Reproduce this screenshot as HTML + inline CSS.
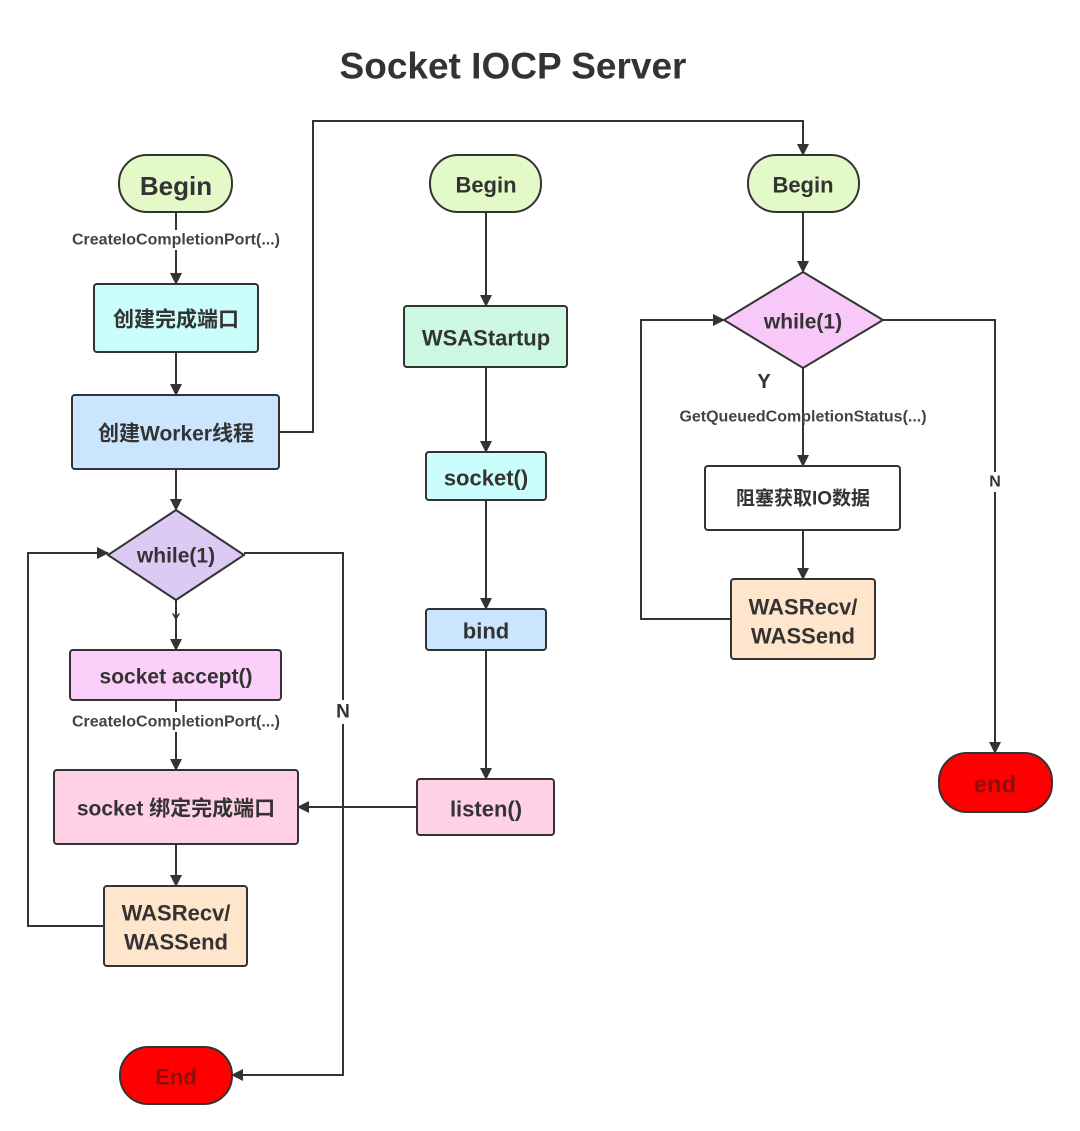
<!DOCTYPE html>
<html><head><meta charset="utf-8"><style>
html,body{margin:0;padding:0;background:#fff}
svg{display:block}
text{font-family:"Liberation Sans","Noto Sans CJK SC",sans-serif;font-weight:bold;fill:#333;text-anchor:middle;dominant-baseline:central}
.s{font-size:16px;font-weight:bold;fill:#444}
</style></head><body>
<svg width="1080" height="1131" viewBox="0 0 1080 1131" xmlns="http://www.w3.org/2000/svg">
<defs><marker id="a" markerWidth="12" markerHeight="12" refX="11" refY="6" orient="auto" markerUnits="userSpaceOnUse"><path d="M0,0 L12,6 L0,12 z" fill="#333"/></marker></defs>
<text x="513" y="66" style="font-size:37px">Socket IOCP Server</text>
<g stroke="#333" stroke-width="2" fill="none">
<line x1="176" y1="212" x2="176" y2="230"/>
<line x1="176" y1="250" x2="176" y2="284" marker-end="url(#a)"/>
<line x1="176" y1="352" x2="176" y2="395" marker-end="url(#a)"/>
<line x1="176" y1="469" x2="176" y2="510" marker-end="url(#a)"/>
<line x1="176" y1="600" x2="176" y2="650" marker-end="url(#a)"/>
<line x1="176" y1="700" x2="176" y2="712"/>
<line x1="176" y1="732" x2="176" y2="770" marker-end="url(#a)"/>
<line x1="176" y1="844" x2="176" y2="886" marker-end="url(#a)"/>
<polyline points="104,926 28,926 28,553 108,553" marker-end="url(#a)"/>
<polyline points="244,553 343,553 343,1075 232,1075" marker-end="url(#a)"/>
<polyline points="279,432 313,432 313,121 803,121 803,155" marker-end="url(#a)"/>
<line x1="486" y1="212" x2="486" y2="306" marker-end="url(#a)"/>
<line x1="486" y1="367" x2="486" y2="452" marker-end="url(#a)"/>
<line x1="486" y1="500" x2="486" y2="609" marker-end="url(#a)"/>
<line x1="486" y1="650" x2="486" y2="779" marker-end="url(#a)"/>
<line x1="417" y1="807" x2="298" y2="807" marker-end="url(#a)"/>
<line x1="803" y1="212" x2="803" y2="272" marker-end="url(#a)"/>
<line x1="803" y1="368" x2="803" y2="466" marker-end="url(#a)"/>
<line x1="803" y1="530" x2="803" y2="579" marker-end="url(#a)"/>
<polyline points="731,619 641,619 641,320 724,320" marker-end="url(#a)"/>
<polyline points="883,320 995,320 995,753" marker-end="url(#a)"/>
</g>
<rect x="334" y="700" width="18" height="24" fill="#fff"/>
<rect x="987" y="472" width="16" height="20" fill="#fff"/>
<g stroke="#333" stroke-width="2">
<rect x="119" y="155" width="113" height="57" rx="28" fill="#e4f9c8"/>
<rect x="94" y="284" width="164" height="68" rx="3" fill="#ccfdfd"/>
<rect x="72" y="395" width="207" height="74" rx="3" fill="#cce5ff"/>
<polygon points="176,510 244,555 176,600 108,555" fill="#dccaf5"/>
<rect x="70" y="650" width="211" height="50" rx="3" fill="#fccefa"/>
<rect x="54" y="770" width="244" height="74" rx="3" fill="#ffd0e6"/>
<rect x="104" y="886" width="143" height="80" rx="3" fill="#ffe5cc"/>
<rect x="120" y="1047" width="112" height="57" rx="28" fill="#ff0000"/>
<rect x="430" y="155" width="111" height="57" rx="28" fill="#e4f9c8"/>
<rect x="404" y="306" width="163" height="61" rx="3" fill="#ccf8e2"/>
<rect x="426" y="452" width="120" height="48" rx="3" fill="#ccfdfd"/>
<rect x="426" y="609" width="120" height="41" rx="3" fill="#cce5ff"/>
<rect x="417" y="779" width="137" height="56" rx="3" fill="#ffd0e6"/>
<rect x="748" y="155" width="111" height="57" rx="28" fill="#e4f9c8"/>
<polygon points="803,272 883,320 803,368 724,320" fill="#f7c8f8"/>
<rect x="705" y="466" width="195" height="64" rx="3" fill="#fff"/>
<rect x="731" y="579" width="144" height="80" rx="3" fill="#ffe5cc"/>
<rect x="939" y="753" width="113" height="59" rx="28" fill="#ff0000"/>
</g>
<text x="176" y="186" style="font-size:26px">Begin</text>
<text x="176" y="240" class="s">CreateIoCompletionPort(...)</text>
<text x="176" y="320" style="font-size:21px">创建完成端口</text>
<text x="176" y="434" style="font-size:21px">创建Worker线程</text>
<text x="176" y="556" style="font-size:21px">while(1)</text>
<text x="176" y="618" style="font-size:13px">Y</text>
<text x="176" y="677" style="font-size:21px">socket accept()</text>
<text x="176" y="722" class="s">CreateIoCompletionPort(...)</text>
<text x="176" y="809" style="font-size:21px">socket 绑定完成端口</text>
<text x="176" y="913" style="font-size:22px">WASRecv/</text>
<text x="176" y="942" style="font-size:22px">WASSend</text>
<text x="176" y="1077" style="font-size:22px;fill:#8a1010">End</text>
<text x="343" y="712" style="font-size:19px">N</text>
<text x="486" y="185" style="font-size:22px">Begin</text>
<text x="486" y="338" style="font-size:22px">WSAStartup</text>
<text x="486" y="478" style="font-size:22px">socket()</text>
<text x="486" y="631" style="font-size:22px">bind</text>
<text x="486" y="809" style="font-size:22px">listen()</text>
<text x="803" y="185" style="font-size:22px">Begin</text>
<text x="803" y="322" style="font-size:21px">while(1)</text>
<text x="764" y="382" style="font-size:20px">Y</text>
<text x="803" y="417" class="s">GetQueuedCompletionStatus(...)</text>
<text x="803" y="499" style="font-size:19px">阻塞获取IO数据</text>
<text x="803" y="607" style="font-size:22px">WASRecv/</text>
<text x="803" y="636" style="font-size:22px">WASSend</text>
<text x="995" y="482" style="font-size:16px">N</text>
<text x="995" y="785" style="font-size:24px;fill:#8a1010">end</text>
</svg>
</body></html>
